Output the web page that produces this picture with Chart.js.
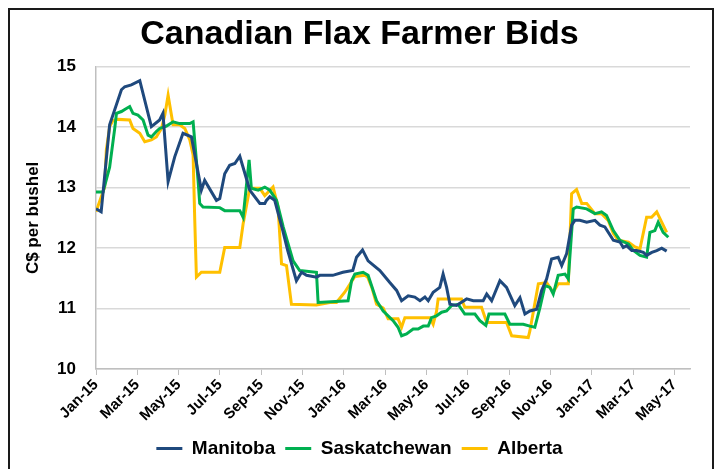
<!DOCTYPE html>
<html lang="en">
<head>
    <meta charset="UTF-8">
    <title>Canadian Flax Farmer Bids</title>
    <script src="https://cdn.jsdelivr.net/npm/chart.js@4.4.0/dist/chart.umd.min.js"></script>
    <style>
        html, body { margin: 0; padding: 0; background: #fff; }
        #wrap { width: 719px; height: 469px; }
    </style>
</head>
<body>
<div id="wrap"><canvas id="myChart" width="719" height="469"></canvas></div>

<script>
    // x values are months since Jan-15 (0 = Jan-15, 2 = Mar-15, ...)
    var tickLabels = ['Jan-15', 'Mar-15', 'May-15', 'Jul-15', 'Sep-15', 'Nov-15', 'Jan-16', 'Mar-16',
        'May-16', 'Jul-16', 'Sep-16', 'Nov-16', 'Jan-17', 'Mar-17', 'May-17'];
    var seriesNames = ['Manitoba', 'Saskatchewan', 'Alberta'];

    var manitobaMonths = [0, 0.25, 0.66, 1.23, 1.39, 1.71, 2.12, 2.68, 3.08, 3.24, 3.49, 3.81, 4.21, 4.62,
        5.10, 5.26, 5.83, 5.99, 6.23, 6.47, 6.72, 6.96, 7.35, 7.44, 7.93, 8.17, 8.25, 8.41, 8.65, 9.04,
        9.28, 9.70, 9.95, 10.19, 10.67, 10.83, 11.46, 11.95, 12.43, 12.61, 12.90, 13.17, 13.74, 14.22,
        14.55, 14.79, 15.11, 15.43, 15.68, 15.92, 16.08, 16.32, 16.64, 16.80, 16.97, 17.13, 17.45, 17.94,
        18.26, 18.74, 18.91, 19.15, 19.55, 19.87, 20.27, 20.52, 20.76, 21.00, 21.33, 21.57, 21.81, 22.05,
        22.37, 22.54, 22.78, 23.02, 23.18, 23.42, 23.75, 24.15, 24.39, 24.63, 25.04, 25.36, 25.52, 25.68,
        25.93, 26.17, 26.49, 26.65, 26.90, 27.14, 27.38, 27.62];
    var manitobaBids = [12.65, 12.6, 14.04, 14.62, 14.67, 14.70, 14.77, 14.01, 14.12, 14.23, 13.10, 13.51, 13.90, 13.84,
        12.96, 13.12, 12.79, 12.82, 13.23, 13.37, 13.40, 13.52, 13.07, 12.96, 12.74, 12.74, 12.79, 12.85, 12.79, 12.29,
        11.96, 11.46, 11.60, 11.55, 11.52, 11.55, 11.55, 11.60, 11.63, 11.85, 11.97, 11.79, 11.63, 11.43,
        11.30, 11.13, 11.21, 11.19, 11.13, 11.19, 11.13, 11.27, 11.35, 11.57, 11.35, 11.07, 11.05, 11.16,
        11.13, 11.13, 11.24, 11.13, 11.46, 11.35, 11.05, 11.18, 10.91, 10.96, 10.99, 11.30, 11.49, 11.82,
        11.85, 11.71, 11.91, 12.38, 12.46, 12.46, 12.43, 12.46, 12.38, 12.35, 12.13, 12.10, 12.01, 12.04,
        11.96, 11.96, 11.93, 11.88, 11.93, 11.96, 12.00, 11.95];

    var saskMonths = [0, 0.34, 0.66, 0.91, 0.99, 1.23, 1.47, 1.63, 1.79, 2.03, 2.28, 2.52, 2.68, 2.92, 3.08,
        3.41, 3.73, 4.05, 4.54, 4.70, 4.94, 5.02, 5.18, 5.99, 6.23, 6.96, 7.12, 7.41, 7.52, 7.85, 8.17,
        8.41, 8.74, 9.06, 9.54, 9.86, 10.67, 10.75, 12.20, 12.37, 12.53, 12.93, 13.17, 13.58, 13.90, 14.38,
        14.62, 14.79, 15.03, 15.35, 15.59, 15.84, 16.08, 16.24, 16.48, 16.73, 16.97, 17.21, 17.53, 17.85,
        18.34, 18.58, 18.87, 19.02, 19.79, 20.03, 20.68, 21.00, 21.24, 21.49, 21.73, 21.97, 22.13, 22.37,
        22.70, 22.86, 23.10, 23.26, 23.75, 24.15, 24.47, 24.71, 25.04, 25.36, 25.77, 26.01, 26.33, 26.65,
        26.81, 27.05, 27.21, 27.45, 27.70];
    var saskBids = [12.93, 12.93, 13.34, 13.99, 14.23, 14.26, 14.31, 14.34, 14.23, 14.20, 14.12, 13.87, 13.84, 13.93, 13.98,
        14.02, 14.09, 14.06, 14.06, 14.09, 13.12, 12.74, 12.68, 12.67, 12.62, 12.62, 12.51, 13.46, 12.99, 12.96, 13.01,
        12.96, 12.79, 12.35, 11.79, 11.63, 11.60, 11.10, 11.13, 11.46, 11.57, 11.60, 11.55, 11.13, 10.96, 10.80,
        10.69, 10.55, 10.58, 10.66, 10.66, 10.71, 10.71, 10.85, 10.88, 10.94, 10.96, 11.05, 11.07, 10.91,
        10.91, 10.80, 10.72, 10.91, 10.91, 10.74, 10.74, 10.71, 10.69, 11.02, 11.38, 11.35, 11.24, 11.55,
        11.57, 11.49, 12.65, 12.68, 12.65, 12.57, 12.60, 12.54, 12.29, 12.13, 12.07, 11.96, 11.88, 11.85,
        12.26, 12.29, 12.43, 12.26, 12.18];

    var albertaMonths = [0, 0.42, 0.50, 0.66, 0.82, 1.07, 1.63, 1.79, 2.12, 2.36, 2.68, 2.92, 3.17, 3.33, 3.49,
        3.73, 4.05, 4.30, 4.54, 4.70, 4.78, 4.86, 5.10, 5.99, 6.23, 6.96, 7.12, 7.44, 7.93, 8.17, 8.57,
        8.81, 8.98, 9.22, 9.46, 10.67, 11.32, 11.64, 12.04, 12.53, 13.01, 13.15, 13.35, 13.58, 13.90, 14.14,
        14.62, 14.79, 14.95, 16.16, 16.32, 16.48, 16.56, 17.69, 17.85, 18.66, 18.91, 19.87, 20.12, 20.92,
        21.00, 21.41, 21.81, 22.13, 22.37, 22.86, 23.02, 23.26, 23.51, 23.75, 24.15, 24.47, 24.79, 25.04,
        25.28, 25.77, 26.09, 26.33, 26.65, 26.89, 27.14, 27.38, 27.62];
    var albertaBids = [12.6, 13.01, 13.62, 14.01, 14.11, 14.13, 14.12, 13.98, 13.90, 13.76, 13.79, 13.84, 13.98, 14.20, 14.53,
        14.04, 14.04, 13.98, 13.79, 13.54, 12.46, 11.52, 11.60, 11.60, 12.01, 12.01, 12.40, 12.99, 12.99, 12.87, 13.01,
        12.68, 11.74, 11.71, 11.07, 11.06, 11.10, 11.10, 11.27, 11.53, 11.55, 11.52, 11.35, 11.07, 11.01, 10.83,
        10.83, 10.69, 10.85, 10.85, 10.74, 10.95, 11.16, 11.16, 11.02, 11.02, 10.77, 10.77, 10.55, 10.52,
        10.63, 11.41, 11.43, 11.27, 11.41, 11.41, 12.90, 12.97, 12.74, 12.74, 12.57, 12.57, 12.46, 12.24,
        12.13, 12.10, 12.02, 11.99, 12.51, 12.51, 12.60, 12.43, 12.26];

    function points(xs, ys) {
        return xs.map(function (x, i) { return {x: x, y: ys[i]}; });
    }

    (function () {
        var ctx = document.getElementById('myChart').getContext('2d');
        var colors = ['#1F497D', '#00B050', '#FFC000'];
        var font = 'Liberation Sans, Arial, sans-serif';

        var frame = {
            id: 'frame',
            beforeDraw: function (chart) {
                var c = chart.ctx;
                c.save();
                c.fillStyle = '#fff';
                c.fillRect(0, 0, chart.width, chart.height);
                c.strokeStyle = '#1a1a1a';
                c.lineWidth = 2;
                c.strokeRect(9, 9, 704, 480);
                c.restore();
            }
        };

        var sets = [points(manitobaMonths, manitobaBids), points(saskMonths, saskBids), points(albertaMonths, albertaBids)];

        new Chart(ctx, {
            type: 'line',
            data: {
                datasets: sets.map(function (d, i) {
                    return {
                        label: seriesNames[i],
                        data: d,
                        borderColor: colors[i],
                        backgroundColor: colors[i],
                        borderWidth: 3,
                        pointRadius: 0,
                        tension: 0
                    };
                })
            },
            options: {
                responsive: false,
                animation: false,
                layout: {padding: {left: 0, right: 0, top: 0, bottom: 1}},
                plugins: {
                    title: {
                        display: true,
                        text: 'Canadian Flax Farmer Bids',
                        color: '#000',
                        font: {family: font, size: 34, weight: 'bold'},
                        padding: {top: 14, bottom: 12}
                    },
                    legend: {
                        position: 'bottom',
                        labels: {
                            color: '#000',
                            font: {family: font, size: 19, weight: 'bold'},
                            boxWidth: 26,
                            boxHeight: 3,
                            padding: 10,
                            generateLabels: function (chart) {
                                return Chart.defaults.plugins.legend.labels.generateLabels(chart).map(function (l) {
                                    l.lineWidth = 0;
                                    return l;
                                });
                            }
                        }
                    },
                    tooltip: {enabled: false}
                },
                scales: {
                    x: {
                        type: 'linear',
                        min: 0,
                        max: 28.75,
                        afterFit: function (scale) { scale.height = 60; },
                        border: {color: '#bfbfbf', width: 1.5},
                        grid: {drawOnChartArea: false, tickLength: 6, color: '#bfbfbf'},
                        ticks: {
                            stepSize: 2,
                            includeBounds: false,
                            autoSkip: false,
                            maxRotation: 45,
                            minRotation: 45,
                            padding: 1,
                            color: '#000',
                            font: {family: font, size: 15, weight: 'bold'},
                            callback: function (v) {
                                return v % 2 === 0 ? tickLabels[v / 2] : '';
                            }
                        }
                    },
                    y: {
                        min: 10,
                        max: 15,
                        afterFit: function (scale) { scale.width = 96; },
                        border: {color: '#bfbfbf', width: 1.5},
                        grid: {color: '#d9d9d9', lineWidth: 1.5, drawTicks: false},
                        ticks: {
                            stepSize: 1,
                            padding: 20,
                            color: '#000',
                            font: {family: font, size: 17, weight: 'bold'}
                        },
                        title: {
                            display: true,
                            text: 'C$ per bushel',
                            color: '#000',
                            font: {family: font, size: 17, weight: 'bold'},
                            padding: {top: 23, bottom: 0}
                        }
                    },
                    // empty right-hand gutter so the plot ends where the reference does
                    gutter: {
                        position: 'right',
                        min: 10,
                        max: 15,
                        afterFit: function (scale) { scale.width = 29; },
                        border: {display: false},
                        grid: {display: false},
                        ticks: {display: false}
                    }
                }
            },
            plugins: [frame]
        });
    })();
</script>
</body>
</html>
